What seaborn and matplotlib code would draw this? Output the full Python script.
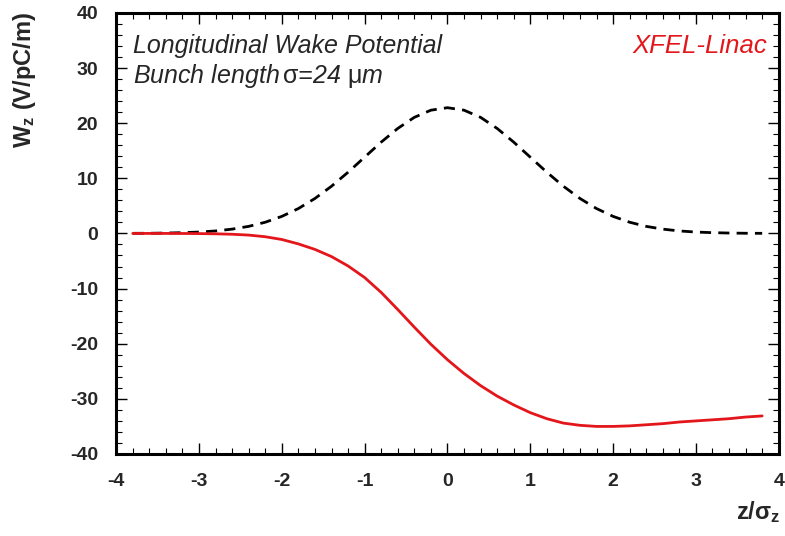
import numpy as np
import pandas as pd
import seaborn as sns
import matplotlib
matplotlib.use("Agg")
import matplotlib.pyplot as plt
from matplotlib.ticker import MultipleLocator

# Longitudinal position in units of the bunch length
z = [-3.8, -3.6, -3.4, -3.2, -3.0, -2.8, -2.6, -2.4, -2.2, -2.0, -1.8, -1.6, -1.4,
     -1.2, -1.0, -0.8, -0.6, -0.4, -0.2, 0.0, 0.2, 0.4, 0.6, 0.8, 1.0, 1.2, 1.4,
     1.6, 1.8, 2.0, 2.2, 2.4, 2.6, 2.8, 3.0, 3.2, 3.4, 3.6, 3.8]

# Bunch charge profile (scaled), dashed
profile = [0.02, 0.03, 0.07, 0.14, 0.25, 0.45, 0.78, 1.28, 2.03, 3.09, 4.51, 6.34,
           8.56, 11.10, 13.83, 16.56, 19.04, 21.05, 22.35, 22.8, 22.35, 21.05, 19.04,
           16.56, 13.83, 11.10, 8.56, 6.34, 4.51, 3.09, 2.03, 1.28, 0.78, 0.45, 0.25,
           0.14, 0.07, 0.03, 0.02]

# Longitudinal wake potential W_z (V/pC/m)
wake = [0.0, 0.0, 0.0, -0.01, -0.03, -0.07, -0.15, -0.3, -0.6, -1.1, -1.9, -2.9,
        -4.2, -5.9, -8.0, -10.7, -13.8, -17.0, -20.1, -22.9, -25.4, -27.6, -29.5,
        -31.1, -32.5, -33.6, -34.4, -34.8, -35.0, -35.0, -34.9, -34.7, -34.5, -34.2,
        -34.0, -33.8, -33.6, -33.3, -33.1]

df = pd.DataFrame({"z": z, "profile": profile, "wake": wake})

sns.set_theme(style="white")
plt.rcParams["font.family"] = ["Liberation Sans", "DejaVu Sans"]
plt.rcParams["axes.unicode_minus"] = False
plt.rcParams["mathtext.fontset"] = "custom"
plt.rcParams["mathtext.rm"] = "Liberation Sans"
plt.rcParams["mathtext.it"] = "Liberation Sans:italic"
plt.rcParams["mathtext.bf"] = "Liberation Sans:bold"

fig = plt.figure(figsize=(7.85, 5.36), dpi=100)
ax = fig.add_axes([0.148, 0.153, 0.844, 0.823])

sns.lineplot(data=df, x="z", y="profile", ax=ax, color="black", lw=2.0,
             linestyle=(0, (4, 2.6)))
sns.lineplot(data=df, x="z", y="wake", ax=ax, color="#e3161b", lw=2.0)

ax.set_xlim(-4, 4)
ax.set_ylim(-40, 40)
ax.set_xlabel("")
ax.set_ylabel("")

ax.xaxis.set_major_locator(MultipleLocator(1))
ax.xaxis.set_minor_locator(MultipleLocator(0.2))
ax.yaxis.set_major_locator(MultipleLocator(10))
ax.yaxis.set_minor_locator(MultipleLocator(2))
ax.tick_params(which="both", direction="in", top=True, right=True,
               bottom=True, left=True, color="black")
ax.tick_params(which="major", length=8, width=1.0, labelsize=14)
ax.tick_params(axis="x", which="major", pad=14)
ax.tick_params(axis="y", which="major", pad=13)
ax.tick_params(which="minor", length=4.5, width=0.8)
for lab in ax.get_xticklabels() + ax.get_yticklabels():
    lab.set_fontweight("bold")

for sp in ax.spines.values():
    sp.set_linewidth(2.2)
    sp.set_color("black")

ax.text(0.026, 0.909, "Longitudinal Wake Potential", transform=ax.transAxes,
        fontsize=18, style="italic", ha="left", va="baseline")
ax.text(0.026, 0.841, "Bunch length$\\,\\mathrm{\u03c3}$=24 $\\mathrm{\u03bc}$m",
        transform=ax.transAxes, fontsize=18, style="italic", ha="left",
        va="baseline")
ax.text(0.983, 0.909, "XFEL-Linac", transform=ax.transAxes, color="#e3161b",
        fontsize=18.5, style="italic", ha="right", va="baseline")

fig.text(0.031, 0.978, r"W$_\mathbf{z}$ (V/pC/m)", rotation=90, ha="center",
         va="top", fontsize=17, fontweight="bold")
fig.text(0.994, 0.02, r"z/$\mathbf{\sigma_z}$", ha="right", va="bottom",
         fontsize=17, fontweight="bold")

fig.savefig("out.png", dpi=100)
